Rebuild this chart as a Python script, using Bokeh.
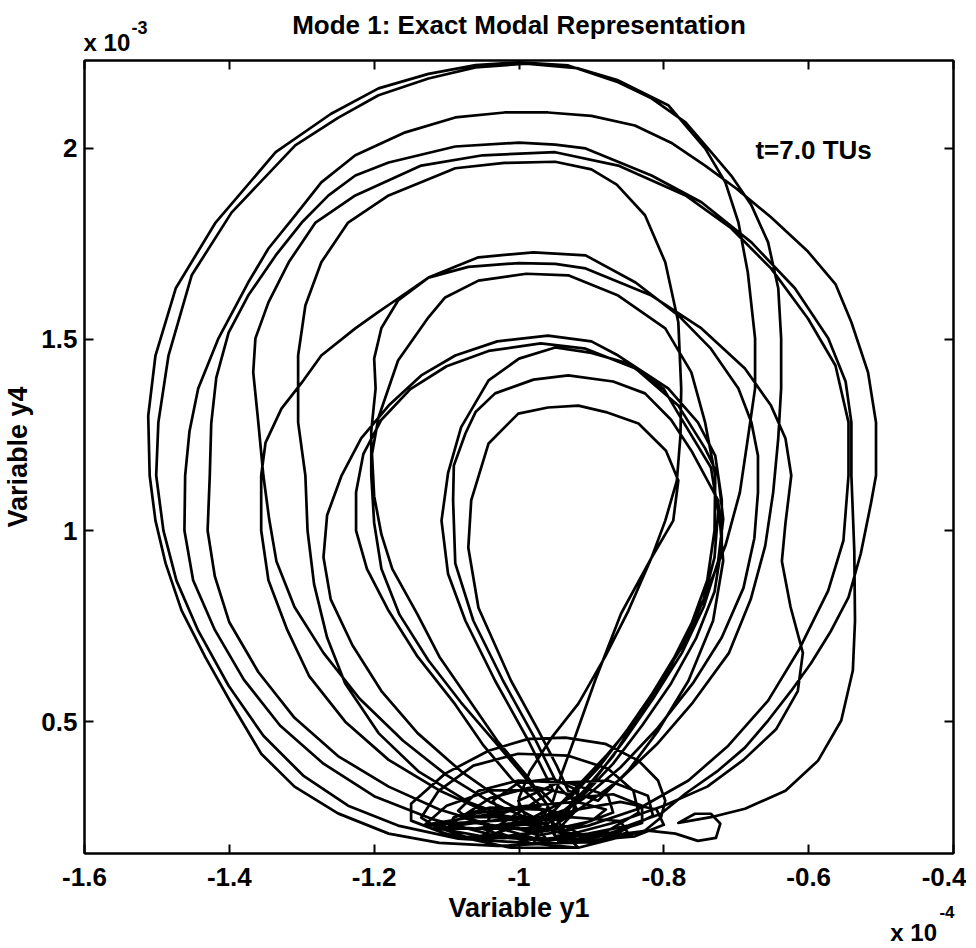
from bokeh.plotting import figure
from bokeh.models import Range1d, FixedTicker, LinearAxis, Label
from bokeh.embed import file_html
from bokeh.resources import INLINE

# ---------------- axis definition (units: y1 in 1e-4, y4 in 1e-3) ----------------
x_ticks = [-1.6, -1.4, -1.2, -1.0, -0.8, -0.6, -0.4]
x_tick_labels = ["-1.6", "-1.4", "-1.2", "-1", "-0.8", "-0.6", "-0.4"]
y_ticks = [0.5, 1.0, 1.5, 2.0]
y_tick_labels = ["0.5", "1", "1.5", "2"]
x_limits = (-1.6, -0.4)
y_limits = (0.155, 2.23)

# ---------------- trajectory, loop by loop (y1, y4) ----------------
loop_a = [(-0.97,0.18),(-1.03,0.175),(-1.11,0.183),(-1.18,0.207),(-1.25,0.26),(-1.31,0.33),(-1.356,0.416),
          (-1.397,0.547),(-1.433,0.668),(-1.466,0.791),(-1.488,0.914),(-1.502,1.026),(-1.51,1.144),(-1.512,1.30),
          (-1.502,1.458),(-1.474,1.634),(-1.419,1.806),(-1.336,1.99),(-1.26,2.09),(-1.194,2.157),(-1.125,2.195),
          (-1.06,2.218),(-1.0,2.225),(-0.932,2.217),(-0.863,2.173),(-0.817,2.131),(-0.77,2.068),(-0.739,2.0),
          (-0.707,1.929),(-0.679,1.851),(-0.656,1.754),(-0.642,1.634),(-0.638,1.503),(-0.638,1.372),(-0.642,1.241),
          (-0.649,1.10),(-0.66,0.96),(-0.68,0.82),(-0.71,0.68),(-0.76,0.55),(-0.81,0.44),(-0.86,0.35),(-0.91,0.28),
          (-0.95,0.23)]
cluster_1 = [(-0.918,0.170),(-0.826,0.215),(-0.804,0.249),(-0.798,0.293),(-0.808,0.346),(-0.835,0.398),
             (-0.881,0.442),(-0.936,0.458),(-0.987,0.455),(-1.042,0.424),(-1.102,0.364),(-1.149,0.285),
             (-1.149,0.241),(-1.102,0.207),(-1.011,0.170),(-0.918,0.170)]
loop_b = [(-0.99,0.183),(-1.084,0.194),(-1.167,0.228),(-1.236,0.28),(-1.298,0.359),(-1.353,0.463),(-1.401,0.594),
          (-1.443,0.738),(-1.473,0.869),(-1.491,1.0),(-1.501,1.144),(-1.498,1.283),(-1.484,1.458),(-1.452,1.668),
          (-1.397,1.832),(-1.309,2.008),(-1.25,2.08),(-1.194,2.139),(-1.125,2.183),(-1.06,2.212),(-0.99,2.222),
          (-0.92,2.21),(-0.863,2.178),(-0.794,2.113),(-0.743,2.0),(-0.715,1.911),(-0.697,1.806),(-0.684,1.675),
          (-0.674,1.503),(-0.674,1.372),(-0.684,1.241),(-0.695,1.10),(-0.715,0.96),(-0.745,0.82),(-0.785,0.67),
          (-0.83,0.53),(-0.87,0.41),(-0.91,0.32),(-0.94,0.25)]
cluster_6 = [(-1.08,0.25),(-1.04,0.30),(-0.98,0.33),(-0.93,0.31),(-0.92,0.27),(-0.96,0.235),(-1.03,0.225),
             (-1.08,0.25)]
loop_c = [(-0.97,0.19),(-1.04,0.205),(-1.12,0.245),(-1.20,0.305),(-1.27,0.39),(-1.33,0.49),(-1.38,0.61),
          (-1.42,0.74),(-1.45,0.87),(-1.462,1.0),(-1.461,1.144),(-1.455,1.26),(-1.443,1.372),(-1.415,1.503),
          (-1.374,1.649),(-1.346,1.738),(-1.309,1.825),(-1.273,1.911),(-1.226,1.982),(-1.157,2.042),(-1.088,2.081),
          (-1.02,2.094),(-0.96,2.094),(-0.90,2.085),(-0.84,2.06),(-0.79,2.015),(-0.743,1.955),(-0.70,1.895),
          (-0.652,1.82),(-0.601,1.73),(-0.563,1.645),(-0.541,1.545),(-0.518,1.414),(-0.507,1.283),(-0.507,1.144),
          (-0.514,1.071),(-0.528,0.94),(-0.545,0.825),(-0.569,0.738),(-0.597,0.652),(-0.624,0.581),(-0.656,0.503),
          (-0.688,0.432),(-0.725,0.372),(-0.77,0.312),(-0.804,0.259),(-0.849,0.228),(-0.904,0.207),(-0.96,0.194)]
cluster_11 = [(-1.02,0.20),(-0.96,0.215),(-0.90,0.24),(-0.88,0.27),(-0.92,0.29),(-0.99,0.28),(-1.04,0.25),
              (-1.05,0.22),(-1.02,0.20)]
cluster_2 = [(-0.96,0.188),(-0.877,0.215),(-0.835,0.262),(-0.842,0.319),(-0.877,0.377),(-0.932,0.411),
             (-1.001,0.416),(-1.063,0.385),(-1.111,0.319),(-1.135,0.249),(-1.111,0.22),(-1.056,0.202),(-0.96,0.188)]
loop_d = [(-0.97,0.21),(-1.04,0.23),(-1.11,0.27),(-1.18,0.33),(-1.25,0.41),(-1.31,0.51),(-1.36,0.63),
          (-1.40,0.76),(-1.42,0.88),(-1.43,1.0),(-1.427,1.144),(-1.425,1.28),(-1.418,1.40),(-1.401,1.518),
          (-1.374,1.615),(-1.336,1.72),(-1.30,1.806),(-1.263,1.877),(-1.226,1.929),(-1.18,1.963),(-1.088,2.005),
          (-1.0,2.015),(-0.95,2.01),(-0.908,2.0),(-0.817,1.929),(-0.748,1.859),(-0.679,1.754),(-0.619,1.634),
          (-0.573,1.503),(-0.549,1.39),(-0.541,1.283),(-0.541,1.144),(-0.537,0.948),(-0.536,0.764),(-0.539,0.634),
          (-0.555,0.503),(-0.587,0.398),(-0.632,0.319),(-0.688,0.272),(-0.735,0.25),(-0.78,0.235),(-0.757,0.259),
          (-0.735,0.259),(-0.722,0.233),(-0.728,0.196),(-0.753,0.188),(-0.784,0.207),(-0.822,0.215),(-0.877,0.202),
          (-0.946,0.188)]
cluster_7 = [(-0.90,0.19),(-0.84,0.20),(-0.80,0.23),(-0.81,0.27),(-0.86,0.29),(-0.92,0.27),(-0.94,0.23),
             (-0.90,0.19)]
loop_e = [(-0.98,0.24),(-1.04,0.29),(-1.10,0.36),(-1.16,0.45),(-1.22,0.56),(-1.27,0.68),(-1.31,0.80),
          (-1.335,0.92),(-1.345,1.03),(-1.353,1.144),(-1.36,1.283),(-1.367,1.414),(-1.364,1.503),(-1.346,1.597),
          (-1.318,1.702),(-1.281,1.806),(-1.226,1.877),(-1.135,1.955),(-1.05,1.982),(-0.95,1.99),(-0.863,1.955),
          (-0.77,1.877),(-0.707,1.791),(-0.652,1.686),(-0.601,1.555),(-0.563,1.432),(-0.545,1.283),(-0.545,1.144),
          (-0.552,0.974),(-0.573,0.843),(-0.614,0.686),(-0.656,0.555),(-0.711,0.437),(-0.766,0.346),(-0.835,0.272),
          (-0.904,0.228),(-0.973,0.202)]
cluster_3 = [(-1.001,0.22),(-0.918,0.228),(-0.87,0.262),(-0.877,0.306),(-0.932,0.34),(-1.001,0.346),
             (-1.056,0.319),(-1.084,0.267),(-1.063,0.236),(-1.001,0.22)]
loop_f = [(-1.0,0.24),(-1.07,0.29),(-1.139,0.37),(-1.194,0.47),(-1.24,0.60),(-1.265,0.72),(-1.283,0.86),
          (-1.292,1.0),(-1.295,1.144),(-1.305,1.283),(-1.305,1.458),(-1.295,1.589),(-1.273,1.702),(-1.236,1.806),
          (-1.18,1.877),(-1.088,1.948),(-1.02,1.962),(-0.95,1.965),(-0.90,1.945),(-0.865,1.905),(-0.826,1.825),
          (-0.798,1.702),(-0.78,1.545),(-0.776,1.372),(-0.777,1.25),(-0.782,1.131),(-0.798,1.026),(-0.817,0.929),
          (-0.849,0.79),(-0.881,0.67),(-0.918,0.547),(-0.955,0.458),(-0.985,0.37),(-1.0,0.30),(-1.0,0.25)]
cluster_8 = [(-1.12,0.22),(-1.06,0.26),(-0.99,0.28),(-0.94,0.26),(-0.95,0.22),(-1.02,0.195),(-1.09,0.20),
             (-1.12,0.22)]
loop_g = [(-0.97,0.22),(-1.04,0.26),(-1.11,0.32),(-1.18,0.40),(-1.24,0.50),(-1.29,0.62),(-1.32,0.74),
          (-1.346,0.87),(-1.356,1.0),(-1.356,1.144),(-1.35,1.23),(-1.328,1.319),(-1.30,1.387),(-1.273,1.458),
          (-1.226,1.529),(-1.194,1.572),(-1.171,1.602),(-1.125,1.662),(-1.056,1.715),(-0.98,1.728),(-0.908,1.72),
          (-0.839,1.649),(-0.78,1.563),(-0.735,1.476),(-0.697,1.372),(-0.679,1.283),(-0.67,1.196),(-0.67,1.10),
          (-0.675,0.98),(-0.69,0.85),(-0.72,0.72),(-0.76,0.60),(-0.81,0.48),(-0.86,0.38),(-0.91,0.30),(-0.95,0.25)]
cluster_4 = [(-0.932,0.202),(-0.863,0.21),(-0.815,0.254),(-0.822,0.306),(-0.877,0.346),(-0.946,0.34),
             (-1.001,0.293),(-0.987,0.236),(-0.932,0.202)]
cluster_12 = [(-0.98,0.18),(-0.90,0.185),(-0.85,0.21),(-0.86,0.24),(-0.93,0.25),(-1.00,0.235),(-1.03,0.21),
              (-0.98,0.18)]
loop_h = [(-0.96,0.28),(-0.99,0.35),(-1.03,0.44),(-1.08,0.55),(-1.125,0.66),(-1.165,0.78),(-1.19,0.90),
          (-1.20,1.02),(-1.204,1.144),(-1.204,1.26),(-1.198,1.372),(-1.20,1.45),(-1.19,1.53),(-1.167,1.602),
          (-1.125,1.662),(-1.07,1.69),(-1.0,1.70),(-0.95,1.698),(-0.908,1.686),(-0.817,1.615),(-0.748,1.529),
          (-0.688,1.424),(-0.652,1.327),(-0.632,1.241),(-0.624,1.144),(-0.632,1.02),(-0.637,0.92),(-0.625,0.80),
          (-0.608,0.68),(-0.615,0.58),(-0.645,0.48),(-0.69,0.40),(-0.74,0.33),(-0.80,0.28),(-0.86,0.24),(-0.92,0.21)]
cluster_9 = [(-0.95,0.20),(-0.88,0.205),(-0.83,0.235),(-0.83,0.28),(-0.87,0.31),(-0.93,0.30),(-0.97,0.26),
             (-0.95,0.20)]
loop_i = [(-0.96,0.28),(-0.99,0.36),(-1.03,0.45),(-1.07,0.56),(-1.11,0.67),(-1.14,0.78),(-1.175,0.90),
          (-1.19,0.99),(-1.20,1.09),(-1.203,1.20),(-1.194,1.296),(-1.167,1.445),(-1.125,1.558),(-1.102,1.61),
          (-1.056,1.654),(-0.99,1.672),(-0.932,1.668),(-0.863,1.615),(-0.798,1.529),(-0.762,1.414),(-0.743,1.283),
          (-0.729,1.144),(-0.73,1.0),(-0.74,0.87),(-0.765,0.74),(-0.80,0.61),(-0.84,0.50),(-0.88,0.41),(-0.92,0.33),
          (-0.95,0.27)]
cluster_5 = [(-0.973,0.241),(-0.925,0.267),(-0.918,0.319),(-0.953,0.351),(-1.001,0.34),(-1.036,0.293),
             (-1.022,0.254),(-0.973,0.241)]
loop_j = [(-0.97,0.24),(-1.02,0.29),(-1.08,0.37),(-1.14,0.47),(-1.19,0.58),(-1.23,0.70),(-1.26,0.82),
          (-1.27,0.93),(-1.265,1.04),(-1.245,1.144),(-1.218,1.241),(-1.18,1.327),(-1.135,1.406),(-1.088,1.458),
          (-1.03,1.495),(-0.96,1.51),(-0.90,1.495),(-0.863,1.458),(-0.794,1.372),(-0.753,1.283),(-0.729,1.196),
          (-0.72,1.08),(-0.72,0.96),(-0.73,0.84),(-0.755,0.72),(-0.79,0.60),(-0.83,0.49),(-0.87,0.39),(-0.91,0.31),
          (-0.95,0.25)]
cluster_10 = [(-1.13,0.23),(-1.10,0.28),(-1.04,0.32),(-0.97,0.32),(-0.95,0.28),(-0.99,0.24),(-1.06,0.22),
              (-1.13,0.23)]
loop_k = [(-0.97,0.28),(-1.01,0.35),(-1.05,0.44),(-1.09,0.55),(-1.14,0.67),(-1.18,0.79),(-1.21,0.90),
          (-1.225,1.0),(-1.225,1.10),(-1.215,1.20),(-1.19,1.29),(-1.15,1.37),(-1.10,1.43),(-1.042,1.47),(-0.97,1.49),
          (-0.908,1.476),(-0.839,1.424),(-0.78,1.327),(-0.743,1.215),(-0.725,1.144),(-0.718,1.03),(-0.725,0.92),
          (-0.745,0.80),(-0.775,0.68),(-0.815,0.56),(-0.855,0.45),(-0.895,0.35),(-0.935,0.27)]
cluster_13 = [(-1.06,0.19),(-1.00,0.20),(-0.95,0.23),(-0.97,0.27),(-1.04,0.275),(-1.09,0.25),(-1.10,0.215),
              (-1.06,0.19)]
loop_l = [(-0.953,0.32),(-0.987,0.45),(-1.033,0.607),(-1.074,0.764),(-1.098,0.887),(-1.107,1.026),(-1.098,1.15),
          (-1.08,1.27),(-1.042,1.393),(-1.0,1.45),(-0.95,1.479),(-0.90,1.465),(-0.849,1.437),(-0.80,1.37),
          (-0.78,1.306),(-0.735,1.165),(-0.725,1.05),(-0.73,0.93),(-0.745,0.82),(-0.77,0.71),(-0.81,0.59),
          (-0.85,0.48),(-0.89,0.38),(-0.93,0.30)]
loop_m = [(-0.946,0.332),(-0.98,0.463),(-1.022,0.607),(-1.063,0.764),(-1.088,0.914),(-1.091,1.079),(-1.09,1.17),
          (-1.074,1.254),(-1.06,1.31),(-1.033,1.359),(-0.98,1.395),(-0.932,1.406),(-0.87,1.39),(-0.826,1.359),
          (-0.79,1.29),(-0.762,1.209),(-0.725,1.079),(-0.718,0.921),(-0.732,0.764),(-0.766,0.607),(-0.808,0.476),
          (-0.849,0.372),(-0.891,0.293)]
loop_n = [(-0.932,0.319),(-0.948,0.385),(-0.973,0.476),(-1.011,0.607),(-1.056,0.798),(-1.07,0.955),(-1.066,1.079),
          (-1.042,1.228),(-1.001,1.306),(-0.96,1.322),(-0.918,1.327),(-0.88,1.31),(-0.835,1.28),(-0.797,1.209),
          (-0.78,1.131),(-0.787,1.026),(-0.817,0.929),(-0.859,0.783),(-0.895,0.607),(-0.922,0.463),(-0.942,0.359),
          (-0.953,0.293)]

trajectory_order = [loop_a, cluster_1, loop_b, cluster_6, loop_c, cluster_11, cluster_2, loop_d, cluster_7,
                    loop_e, cluster_3, loop_f, cluster_8, loop_g, cluster_4, cluster_12, loop_h, cluster_9, loop_i,
                    cluster_5, loop_j, cluster_10, loop_k, cluster_13, loop_l, loop_m, loop_n]

title_text = "Mode 1: Exact Modal Representation"
x_label = "Variable y1"
y_label = "Variable y4"
scale_text = "x 10"
x_scale_exp = "-4"
y_scale_exp = "-3"
note_text = "t=7.0 TUs"
note_pos = (-0.6735, 1.997)
# where the multiplier texts sit along the horizontal axis (y1 units)
y_mult_x, y_exp_x = -1.569, -1.524
x_mult_x, x_exp_x = -0.455, -0.409

# ---------------- figure ----------------
FONT = "Liberation Sans"
xs = [pt[0] for seg in trajectory_order for pt in seg]
ys = [pt[1] for seg in trajectory_order for pt in seg]

FW, FH = 869, 793
p = figure(frame_width=FW, frame_height=FH,
           x_range=Range1d(*x_limits), y_range=Range1d(*y_limits),
           output_backend="svg", toolbar_location=None, title=None,
           min_border_left=78, min_border_right=13, min_border_top=60, min_border_bottom=10,
           background_fill_color="white", border_fill_color="white")
p.outline_line_color = "black"
p.outline_line_width = 2
p.xgrid.visible = False
p.ygrid.visible = False

p.line(xs, ys, line_color="black", line_width=2.7, line_join="round", line_cap="round")


def style_axis(ax, ticks, labels, show_labels=True):
    ax.ticker = FixedTicker(ticks=ticks, minor_ticks=[])
    ax.major_tick_in = 9
    ax.major_tick_out = 0
    ax.minor_tick_in = 0
    ax.minor_tick_out = 0
    ax.major_tick_line_width = 2
    ax.major_tick_line_color = "black"
    ax.axis_line_width = 2
    ax.axis_line_color = "black"
    if show_labels:
        ax.major_label_overrides = {t: s for t, s in zip(ticks, labels)}
        ax.major_label_text_font = FONT
        ax.major_label_text_font_size = "26px"
        ax.major_label_text_font_style = "bold"
        ax.major_label_text_color = "black"
        ax.axis_label_text_font = FONT
        ax.axis_label_text_font_size = "27px"
        ax.axis_label_text_font_style = "bold"
        ax.axis_label_text_color = "black"
    else:
        ax.major_label_text_font_size = "1px"
        ax.major_label_text_color = None
        ax.major_label_standoff = 0


def text_axis(pos, text, size, standoff):
    """An axis with no line and no tick marks, used only to place one text outside the frame."""
    ax = LinearAxis(ticker=FixedTicker(ticks=[pos], minor_ticks=[]),
                    major_label_overrides={pos: text},
                    major_tick_in=0, major_tick_out=0, minor_tick_in=0, minor_tick_out=0,
                    axis_line_color=None, major_tick_line_color=None, minor_tick_line_color=None,
                    major_label_standoff=standoff, major_label_text_font=FONT,
                    major_label_text_font_size=size, major_label_text_font_style="bold",
                    major_label_text_color="black")
    return ax


style_axis(p.xaxis[0], x_ticks, x_tick_labels)
style_axis(p.yaxis[0], y_ticks, y_tick_labels)
p.yaxis[0].axis_label = y_label
p.xaxis[0].major_label_standoff = 14
p.yaxis[0].major_label_standoff = 7
p.yaxis[0].axis_label_standoff = 5

top_axis = LinearAxis()
style_axis(top_axis, x_ticks, x_tick_labels, show_labels=False)
p.add_layout(top_axis, "above")
right_axis = LinearAxis()
style_axis(right_axis, y_ticks, y_tick_labels, show_labels=False)
p.add_layout(right_axis, "right")

# above the frame: "x 10", then "-3" together with the title
t1 = text_axis(y_mult_x, scale_text, "24px", 5)
p.add_layout(t1, "above")
t2 = text_axis(y_exp_x, y_scale_exp, "18px", -8)
t2.axis_label = title_text
t2.axis_label_text_font = FONT
t2.axis_label_text_font_size = "26px"
t2.axis_label_text_font_style = "bold"
t2.axis_label_text_color = "black"
t2.axis_label_standoff = -22
p.add_layout(t2, "above")

# below the frame: "-4" together with the axis title, then "x 10"
b1 = text_axis(x_exp_x, x_scale_exp, "17px", 17)
b1.axis_label = x_label
b1.axis_label_text_font = FONT
b1.axis_label_text_font_size = "27px"
b1.axis_label_text_font_style = "bold"
b1.axis_label_text_color = "black"
b1.axis_label_standoff = -28
p.add_layout(b1, "below")
b2 = text_axis(x_mult_x, scale_text, "24px", -7)
p.add_layout(b2, "below")

p.add_layout(Label(x=note_pos[0], y=note_pos[1], text=note_text,
                   text_align="left", text_baseline="alphabetic", text_font_size="26px",
                   text_font=FONT, text_font_style="bold", text_color="black"))

open("out.html", "w").write(file_html(p, INLINE))
